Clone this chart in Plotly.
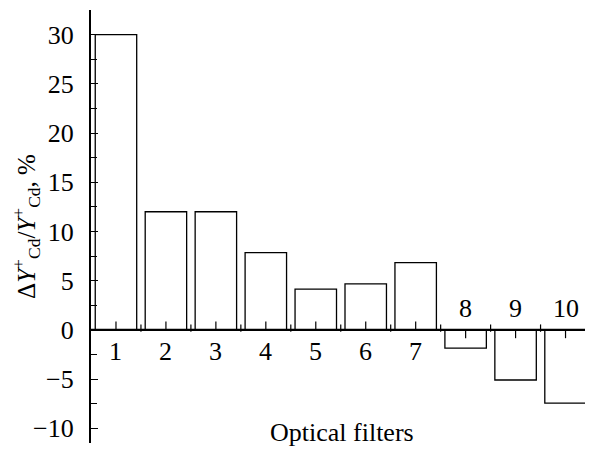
import plotly.graph_objects as go

filters = [1, 2, 3, 4, 5, 6, 7, 8, 9, 10]
values = [30.0, 12.0, 12.0, 7.85, 4.13, 4.67, 6.83, -1.85, -5.1, -7.45]
y_ticks = [-10, -5, 0, 5, 10, 15, 20, 25, 30]
y_tick_text = ["−10", "−5", "0", "5", "10", "15", "20", "25", "30"]

FONT = "Liberation Serif"
fig = go.Figure()

fig.add_trace(go.Bar(
    x=filters, y=values, width=0.83,
    marker=dict(color="white", line=dict(color="black", width=1.3)),
    showlegend=False, hoverinfo="skip",
))

# x-axis tick marks at y=0 (toward each bar) and small boundary ticks
tx, ty = [], []
for f, v in zip(filters, values):
    s = 1 if v >= 0 else -1
    tx += [f, f, None]
    ty += [0, s * 0.85, None]
for f in filters[:-1]:
    tx += [f + 0.5, f + 0.5, None]
    ty += [-0.2, 0.55, None]
fig.add_trace(go.Scatter(x=tx, y=ty, mode="lines",
                         line=dict(color="black", width=1.2),
                         showlegend=False, hoverinfo="skip"))

# zero line (x axis)
fig.add_shape(type="line", xref="paper", yref="y", x0=0, x1=1, y0=0, y1=0,
              line=dict(color="black", width=2.2))

for f, v in zip(filters, values):
    fig.add_annotation(x=f, y=0, text=str(f), showarrow=False,
                       yshift=-22 if v >= 0 else 21,
                       font=dict(family=FONT, size=26, color="black"))

fig.add_annotation(xref="paper", yref="paper", x=0.5, y=0.025,
                   text="Optical filters", showarrow=False, yanchor="middle",
                   font=dict(family=FONT, size=26, color="black"))

# page body has an 8px margin, so the figure is sized to fit the window
fig.update_layout(
    width=585, height=442,
    margin=dict(l=83, r=0, t=2, b=7, autoexpand=False),
    plot_bgcolor="white", paper_bgcolor="white",
    xaxis=dict(range=[0.5, 10.55], visible=False),
    yaxis=dict(
        range=[-11.5, 32.5], tickvals=y_ticks, ticktext=y_tick_text,
        automargin=False,
        ticks="inside", ticklen=7, tickwidth=1.3, tickcolor="black",
        minor=dict(dtick=2.5, tick0=0, ticks="inside", ticklen=6,
                   tickwidth=1.3, tickcolor="black"),
        showline=True, linecolor="black", linewidth=2.2,
        showgrid=False, zeroline=False,
        ticklabelstandoff=10,
        tickfont=dict(family=FONT, size=26, color="black"),
        title=dict(text="Δ<i>Y</i><sup>+</sup><sub>Cd</sub>/<i>Y</i><sup>+</sup><sub>Cd</sub>, %",
                   font=dict(family=FONT, size=25, color="black"), standoff=8),
    ),
)

fig.write_html("out.html")
